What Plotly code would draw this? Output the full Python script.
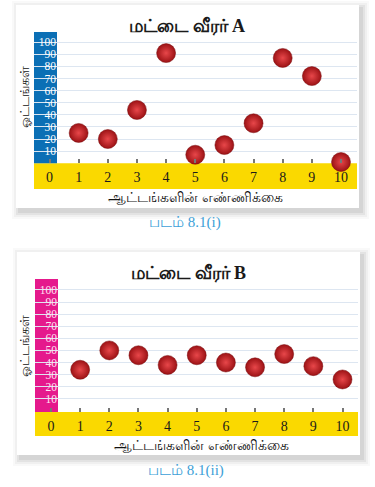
import plotly.graph_objects as go

W, H = 375, 487

games = [1, 2, 3, 4, 5, 6, 7, 8, 9, 10]
runs_a = [25, 20, 44, 91, 7, 15, 33, 87, 72, 1]
runs_b = [34, 50, 46, 38, 46, 40, 36, 47, 37, 26]
x_ticks = list(range(0, 11))
y_ticks = list(range(10, 101, 10))

title_a = "மட்டை வீரர் A"
title_b = "மட்டை வீரர் B"
y_title = "ஓட்டங்கள்"
x_title = "ஆட்டங்களின் எண்ணிக்கை"
caption_a = "படம் 8.1(i)"
caption_b = "படம் 8.1(ii)"

def px(x):
    return x / W

def py(y):
    return 1 - y / H

SERIF = "Liberation Serif, DejaVu Serif, serif"
BLUE = "#0b6fb5"
PINK = "#e5198c"
YELLOW = "#fad900"
GRID = "#dde6f1"

fig = go.Figure()

ball = dict(size=19, color="#9c1215",
            gradient=dict(type="radial", color="#e8474a"),
            line=dict(width=0.5, color="#7a0c0e"))

fig.add_trace(go.Scatter(x=games, y=runs_a, mode="markers", marker=ball,
                         xaxis="x", yaxis="y", cliponaxis=False, hoverinfo="skip"))
fig.add_trace(go.Scatter(x=games, y=runs_b, mode="markers", marker=ball,
                         xaxis="x2", yaxis="y2", cliponaxis=False, hoverinfo="skip"))

shapes = []
# cards with soft shadow
for (x0, y0, x1, y1) in [(16, 5, 359, 208), (17, 252, 360, 455)]:
    for d, op in [(7, 0.025), (5, 0.035), (3, 0.05), (1, 0.06)]:
        shapes.append(dict(type="rect", xref="paper", yref="paper", layer="below",
                           x0=px(x0 - d + 3), x1=px(x1 + d + 3), y0=py(y0 - d + 3), y1=py(y1 + d + 4),
                           fillcolor=f"rgba(0,0,0,{op})", line=dict(width=0)))
    shapes.append(dict(type="rect", xref="paper", yref="paper", layer="below",
                       x0=px(x0), x1=px(x1), y0=py(y0), y1=py(y1),
                       fillcolor="white", line=dict(width=0)))

# yellow bands
shapes.append(dict(type="rect", xref="paper", yref="paper", layer="below",
                   x0=px(34), x1=px(357), y0=py(163.3), y1=py(189),
                   fillcolor=YELLOW, line=dict(width=0)))
shapes.append(dict(type="rect", xref="paper", yref="paper", layer="below",
                   x0=px(35), x1=px(358), y0=py(412), y1=py(436),
                   fillcolor=YELLOW, line=dict(width=0)))
# coloured y bars
shapes.append(dict(type="rect", xref="paper", yref="paper", layer="between",
                   x0=px(34), x1=px(57), y0=py(32), y1=py(163.3),
                   fillcolor=BLUE, line=dict(width=0)))
shapes.append(dict(type="rect", xref="paper", yref="paper", layer="between",
                   x0=px(35), x1=px(58), y0=py(279), y1=py(412),
                   fillcolor=PINK, line=dict(width=0)))

annotations = []
for (txt, x, y) in [(title_a, 187, 26), (title_b, 188, 273)]:
    annotations.append(dict(text=f"<b>{txt}</b>", x=px(x), y=py(y), xref="paper", yref="paper",
                            showarrow=False, xanchor="center", yanchor="middle",
                            font=dict(family=SERIF, size=18, color="#1a1a1a")))
for (x, y) in [(24, 97), (24, 346)]:
    annotations.append(dict(text=y_title, x=px(x), y=py(y), xref="paper", yref="paper",
                            showarrow=False, textangle=-90, xanchor="center", yanchor="middle",
                            font=dict(family=SERIF, size=13, color="#111")))
for (x, y) in [(196, 198), (202, 445)]:
    annotations.append(dict(text=x_title, x=px(x), y=py(y), xref="paper", yref="paper",
                            showarrow=False, xanchor="center", yanchor="middle",
                            font=dict(family=SERIF, size=14, color="#111")))
for (txt, x, y) in [(caption_a, 185, 223), (caption_b, 186, 470)]:
    annotations.append(dict(text=txt, x=px(x), y=py(y), xref="paper", yref="paper",
                            showarrow=False, xanchor="center", yanchor="middle",
                            font=dict(family=SERIF, size=15, color="#3d9fd8")))

def xaxis(x0px, x1px, zero_px, anchor):
    ppu = 29.15
    return dict(domain=[px(x0px), px(x1px)],
                range=[(x0px - zero_px) / ppu, (x1px - zero_px) / ppu],
                tickvals=x_ticks, ticks="inside", ticklen=4, tickwidth=1.5, tickcolor="#777",
                showgrid=False, zeroline=False, showline=False, anchor=anchor,
                ticklabelstandoff=4,
                tickfont=dict(family=SERIF, size=14, color="#1a1a1a"), fixedrange=True)

def yaxis(top_px, bot_px, zero_px, xpos_px, label_color):
    ppu = 1.21
    return dict(domain=[py(bot_px), py(top_px)],
                range=[(zero_px - bot_px) / ppu, (zero_px - top_px) / ppu],
                tickvals=y_ticks, showgrid=True, gridcolor=GRID, gridwidth=1,
                zeroline=False, showline=False, ticks="",
                anchor="free", position=px(xpos_px),
                tickfont=dict(family=SERIF, size=11.5, color=label_color), fixedrange=True)

fig.update_layout(
    width=W, height=H, margin=dict(l=0, r=0, t=0, b=0),
    paper_bgcolor="white", plot_bgcolor="rgba(0,0,0,0)",
    showlegend=False,
    xaxis=xaxis(34, 357, 49.5, "y"),
    yaxis=yaxis(32, 163.3, 163.2, 56, "white"),
    xaxis2=xaxis(35, 358, 51, "y2"),
    yaxis2=yaxis(279, 412, 410.9, 57, "#ffe3f2"),
    shapes=shapes, annotations=annotations,
)

fig.write_html("out.html", config={"displayModeBar": False},
               post_script="document.body.style.margin='0';")
